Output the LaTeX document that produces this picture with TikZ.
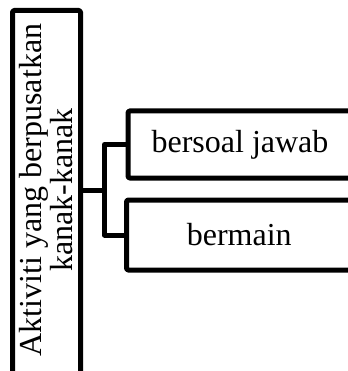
\documentclass[tikz,border=0pt]{standalone}
\usepackage{fontspec}
\setmainfont{Liberation Serif}
\begin{document}
\begin{tikzpicture}[x=1pt,y=-1pt,
  box/.style={draw=black, line width=5pt, line join=round, rounded corners=1.5pt, inner sep=0pt, font=\fontsize{32}{28}\selectfont},
  conn/.style={draw=black, line width=5pt, line join=round},
  vtext/.style={rotate=90, align=center, inner sep=0pt, font=\fontsize{32}{28}\selectfont}]
\useasboundingbox (0,0) rectangle (347,371);
\node[box, minimum width=68pt, minimum height=372pt] (main) at (46.5,196.5) {};
\node[vtext] (mt) at (46,190) {Aktiviti yang berpusatkan\\kanak-kanak};
\node[box, minimum width=224pt, minimum height=67pt] (b1) at (240,144.5) {bersoal jawab};
\node[box, minimum width=225.5pt, minimum height=70pt] (b2) at (239.25,235) {bermain};
\coordinate (j) at (104.5,190.5);
\draw[conn] (main.east |- j) -- (j);
\draw[conn] (b1.west) -| (j) |- (b2.west);
\end{tikzpicture}
\end{document}
